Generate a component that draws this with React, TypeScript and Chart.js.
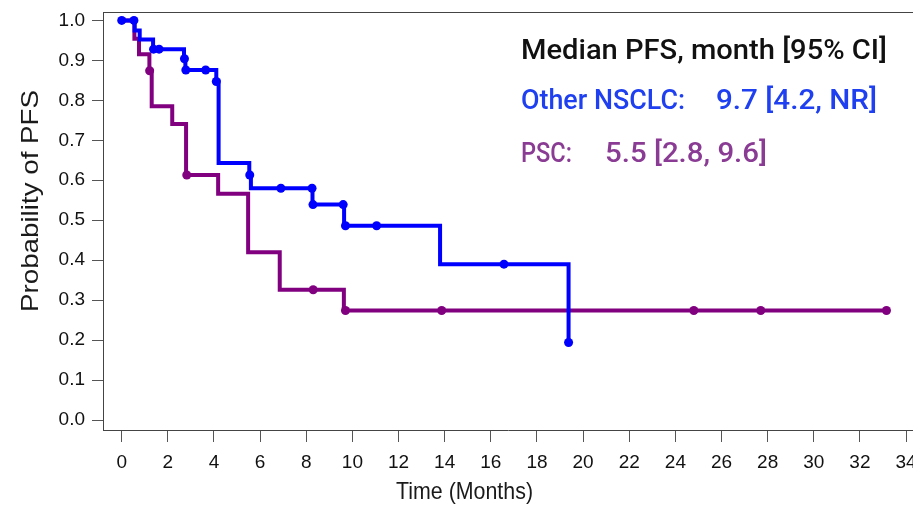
import React, { useEffect, useRef } from "react";
import { Chart, registerables } from "chart.js";

Chart.register(...registerables);

// ---- Axis ticks ----
const xTickValues = [0, 2, 4, 6, 8, 10, 12, 14, 16, 18, 20, 22, 24, 26, 28, 30, 32, 34];
const yTickValues = [0, 0.1, 0.2, 0.3, 0.4, 0.5, 0.6, 0.7, 0.8, 0.9, 1.0];

// ---- Other NSCLC (blue): step times and survival after each step ----
const nsclcTimes = [0, 0.56, 0.78, 1.36, 2.7, 2.76, 4.1, 4.2, 5.53, 5.6, 8.27, 9.64, 13.8, 19.37];
const nsclcSurv = [1.0, 0.975, 0.952, 0.928, 0.904, 0.876, 0.847, 0.643, 0.613, 0.58, 0.539, 0.486, 0.39, 0.194];
// censored marks
const nsclcCensTimes = [0.0, 0.53, 1.38, 1.62, 2.72, 2.78, 3.64, 4.1, 5.55, 6.9, 8.25, 8.29, 9.6, 9.7, 11.05, 16.57, 19.37];
const nsclcCensSurv = [1.0, 1.0, 0.928, 0.928, 0.904, 0.876, 0.876, 0.847, 0.613, 0.58, 0.58, 0.539, 0.539, 0.486, 0.486, 0.39, 0.194];

// ---- PSC (purple) ----
const pscTimes = [0, 0.55, 0.75, 1.2, 1.3, 2.19, 2.79, 4.18, 5.48, 6.85, 9.63, 33.15];
const pscSurv = [1.0, 0.954, 0.915, 0.874, 0.785, 0.741, 0.613, 0.566, 0.42, 0.326, 0.274, 0.274];
const pscCensTimes = [1.21, 2.82, 8.3, 9.7, 13.87, 24.8, 27.7, 33.15];
const pscCensSurv = [0.874, 0.613, 0.326, 0.274, 0.274, 0.274, 0.274, 0.274];

// ---- Annotation text ----
const legendTitle = "Median PFS, month [95% CI]";
const legendRows = [
  { name: "Other NSCLC:", value: "9.7 [4.2, NR]" },
  { name: "PSC:", value: "5.5 [2.8, 9.6]" },
];
const xTitle = "Time (Months)";
const yTitle = "Probability of PFS";

const BLUE = "#0000ff";
const PURPLE = "#800080";

const toPts = (xs: number[], ys: number[]) => xs.map((x, i) => ({ x, y: ys[i] }));

// draw text squeezed/stretched horizontally so it spans `width` px
function fitText(ctx: CanvasRenderingContext2D, text: string, x: number, y: number, width: number) {
  const w = ctx.measureText(text).width || 1;
  ctx.save();
  ctx.translate(x, y);
  ctx.scale(width / w, 1);
  ctx.fillText(text, 0, 0);
  ctx.restore();
}

const overlayPlugin = {
  id: "overlay",
  beforeDatasetsDraw(chart: any) {
    const { ctx, chartArea } = chart;
    ctx.save();
    ctx.strokeStyle = "#444";
    ctx.lineWidth = 1;
    ctx.beginPath();
    const y = Math.round(chartArea.top) + 0.5;
    ctx.moveTo(chartArea.left, y);
    ctx.lineTo(chartArea.right, y);
    ctx.stroke();
    ctx.restore();
  },
  afterDraw(chart: any) {
    const ctx: CanvasRenderingContext2D = chart.ctx;
    ctx.save();
    // axis titles
    ctx.fillStyle = "#1a1a1a";
    ctx.font = "24px 'Liberation Sans', Arial, sans-serif";
    ctx.textAlign = "center";
    ctx.textBaseline = "middle";
    fitText(ctx, xTitle, 464.5, 492, 137);
    ctx.save();
    ctx.translate(31, 201);
    ctx.rotate(-Math.PI / 2);
    fitText(ctx, yTitle, 0, 0, 222);
    ctx.restore();

    // annotation
    ctx.textAlign = "left";
    ctx.textBaseline = "alphabetic";
    ctx.font = "500 27px Roboto, 'Liberation Sans', sans-serif";
    ctx.fillStyle = "#111";
    fitText(ctx, legendTitle, 521, 59, 366);
    ctx.fillStyle = "#1e40f0";
    fitText(ctx, legendRows[0].name, 521, 109, 164);
    fitText(ctx, legendRows[0].value, 716, 109, 161);
    ctx.fillStyle = "#8a3c94";
    fitText(ctx, legendRows[1].name, 521, 162, 51);
    fitText(ctx, legendRows[1].value, 605, 162, 162);
    ctx.restore();
  },
};

export default function App() {
  const ref = useRef<HTMLCanvasElement | null>(null);

  useEffect(() => {
    if (!ref.current) return;
    const chart = new Chart(ref.current, {
      type: "line",
      data: {
        datasets: [
          {
            label: "Other NSCLC censored",
            type: "scatter",
            data: toPts(nsclcCensTimes, nsclcCensSurv),
            backgroundColor: BLUE,
            borderWidth: 0,
            pointRadius: 4.5,
            showLine: false,
          } as any,
          {
            label: "Other NSCLC",
            data: toPts(nsclcTimes, nsclcSurv),
            borderColor: BLUE,
            borderWidth: 4,
            stepped: true,
            pointRadius: 0,
            fill: false,
            tension: 0,
            borderJoinStyle: "miter",
          },
          {
            label: "PSC censored",
            type: "scatter",
            data: toPts(pscCensTimes, pscCensSurv),
            backgroundColor: PURPLE,
            borderWidth: 0,
            pointRadius: 4.5,
            showLine: false,
          } as any,
          {
            label: "PSC",
            data: toPts(pscTimes, pscSurv),
            borderColor: PURPLE,
            borderWidth: 4,
            stepped: true,
            pointRadius: 0,
            fill: false,
            tension: 0,
            borderJoinStyle: "miter",
          },
        ],
      },
      options: {
        animation: false,
        responsive: false,
        maintainAspectRatio: false,
        devicePixelRatio: 1,
        layout: { autoPadding: false, padding: { top: 12, right: 0, bottom: 0, left: 0 } },
        plugins: {
          legend: { display: false },
          tooltip: { enabled: false },
        },
        scales: {
          x: {
            type: "linear",
            min: -0.811,
            max: 34.3,
            afterBuildTicks: (scale: any) => {
              scale.ticks = xTickValues.map((v) => ({ value: v }));
            },
            afterFit: (scale: any) => {
              scale.height = 77;
              scale.paddingLeft = 0;
              scale.paddingRight = 0;
            },
            ticks: {
              autoSkip: false,
              maxRotation: 0,
              padding: 9,
              color: "#111",
              font: { family: "'Liberation Sans', Arial, sans-serif", size: 19 },
              callback: (v: any) => String(v),
            },
            grid: {
              drawOnChartArea: false,
              drawTicks: true,
              tickLength: 12,
              color: "#555",
            },
            border: { display: true, color: "#444", width: 1 },
          },
          y: {
            type: "linear",
            min: -0.025,
            max: 1.021,
            afterBuildTicks: (scale: any) => {
              scale.ticks = yTickValues.map((v) => ({ value: v }));
            },
            afterFit: (scale: any) => {
              scale.width = 103;
              scale.paddingTop = 0;
              scale.paddingBottom = 0;
            },
            ticks: {
              autoSkip: false,
              padding: 7,
              color: "#111",
              font: { family: "'Liberation Sans', Arial, sans-serif", size: 19 },
              callback: (v: any) => Number(v).toFixed(1),
            },
            grid: {
              drawOnChartArea: false,
              drawTicks: true,
              tickLength: 11,
              color: "#555",
            },
            border: { display: true, color: "#444", width: 1 },
          },
        },
      },
      plugins: [overlayPlugin],
    });
    return () => chart.destroy();
  }, []);

  return (
    <div style={{ position: "fixed", left: 0, top: 0, width: 913, height: 507, background: "#fff" }}>
      <canvas ref={ref} width={913} height={507} style={{ display: "block", width: 913, height: 507 }} />
    </div>
  );
}
